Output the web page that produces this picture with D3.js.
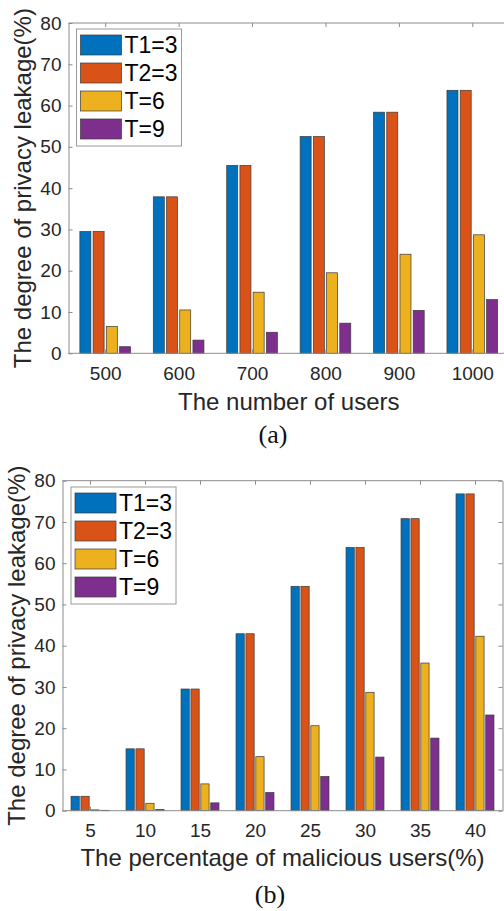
<!DOCTYPE html>
<html>
<head>
<meta charset="utf-8">
<script src="https://cdn.jsdelivr.net/npm/d3@7"></script>
<style>
  body { margin: 0; background: #fff; }
  svg { display: block; }
</style>
</head>
<body>
<script>
// Panel (a): number of users
const userCats = ['500', '600', '700', '800', '900', '1000'];
const userT1 = [29.5, 37.9, 45.5, 52.5, 58.4, 63.7];
const userT2 = [29.5, 37.9, 45.5, 52.5, 58.4, 63.7];
const userT6 = [6.5, 10.5, 14.8, 19.5, 24.0, 28.7];
const userT9 = [1.6, 3.2, 5.1, 7.3, 10.4, 13.0];

// Panel (b): percentage of malicious users
const malCats = ['5', '10', '15', '20', '25', '30', '35', '40'];
const malT1 = [3.5, 15.0, 29.5, 42.9, 54.4, 63.8, 70.8, 76.8];
const malT2 = [3.5, 15.0, 29.5, 42.9, 54.4, 63.8, 70.8, 76.8];
const malT6 = [0.2, 1.8, 6.5, 13.1, 20.6, 28.7, 35.8, 42.3];
const malT9 = [0.1, 0.3, 1.9, 4.4, 8.3, 13.0, 17.6, 23.2];

const seriesNames = ['T1=3', 'T2=3', 'T=6', 'T=9'];
const seriesColors = ['#0072BD', '#D95319', '#EDB120', '#7E2F8E'];
const yTicks = [0, 10, 20, 30, 40, 50, 60, 70, 80];

const sans = '"Liberation Sans", Arial, Helvetica, sans-serif';
const textColor = '#262626';
const axisColor = '#8c8c8c';

const svg = d3.select('body')
  .append('svg')
    .attr('width', 504)
    .attr('height', 911);

const drawPanel = (cfg) => {
  const g = svg.append('g');

  // Scales
  const xScale = d3.scaleBand()
    .domain(cfg.cats)
    .range([cfg.left, cfg.right])
    .padding(0);
  const step = xScale.step();
  const pitch = 0.18 * step;

  const inner = d3.scaleBand()
    .domain(seriesNames)
    .range([-2 * pitch, 2 * pitch])
    .paddingInner(1 - 0.15 / 0.18)
    .paddingOuter((1 - 0.15 / 0.18) / 2);

  const yScale = d3.scaleLinear()
    .domain([0, 80])
    .range([cfg.bottom, cfg.top]);

  const center = (d) => xScale(d) + step / 2;

  // Bars
  const rows = cfg.cats.map((c, i) => ({
    cat: c,
    vals: seriesNames.map((s, j) => ({ key: s, color: seriesColors[j], value: cfg.series[j][i] }))
  }));

  g.append('g')
    .selectAll('g')
    .data(rows)
    .join('g')
      .attr('transform', (d) => `translate(${center(d.cat)},0)`)
    .selectAll('rect')
    .data((d) => d.vals)
    .join('rect')
      .attr('x', (d) => inner(d.key))
      .attr('y', (d) => yScale(d.value))
      .attr('width', inner.bandwidth())
      .attr('height', (d) => yScale(0) - yScale(d.value))
      .attr('fill', (d) => d.color)
      .attr('stroke', '#3a3a3a')
      .attr('stroke-width', 0.7);

  // Axes (box with inward ticks)
  const styleAxis = (a) => {
    a.select('.domain').attr('stroke', axisColor);
    a.selectAll('.tick line').attr('stroke', axisColor);
    a.selectAll('.tick text')
      .attr('fill', textColor)
      .style('font-family', sans)
      .style('font-size', '19px');
  };

  const tickPos = cfg.cats.map(center);

  g.append('g')
    .attr('transform', `translate(${cfg.left},0)`)
    .call(d3.axisLeft(yScale).tickValues(yTicks).tickSizeInner(-4).tickSizeOuter(0).tickPadding(7))
    .call(styleAxis);

  g.append('g')
    .attr('transform', `translate(${cfg.right},0)`)
    .call(d3.axisRight(yScale).tickValues(yTicks).tickSizeInner(-4).tickSizeOuter(0).tickFormat(''))
    .call(styleAxis);

  const xAxisScale = d3.scalePoint().domain(cfg.cats).range([tickPos[0], tickPos[tickPos.length - 1]]);

  const bottomAxis = g.append('g')
    .attr('transform', `translate(0,${cfg.bottom})`)
    .call(d3.axisBottom(xAxisScale).tickSizeInner(-4).tickSizeOuter(0).tickPadding(13))
    .call(styleAxis);
  bottomAxis.select('.domain').remove();
  g.append('line')
    .attr('x1', cfg.left).attr('x2', cfg.right)
    .attr('y1', cfg.bottom).attr('y2', cfg.bottom)
    .attr('stroke', axisColor);

  const topAxis = g.append('g')
    .attr('transform', `translate(0,${cfg.top})`)
    .call(d3.axisTop(xAxisScale).tickSizeInner(-4).tickSizeOuter(0).tickFormat(''))
    .call(styleAxis);
  topAxis.select('.domain').remove();
  g.append('line')
    .attr('x1', cfg.left).attr('x2', cfg.right)
    .attr('y1', cfg.top).attr('y2', cfg.top)
    .attr('stroke', axisColor);

  // Axis titles
  g.append('text')
    .attr('x', (cfg.left + cfg.right) / 2)
    .attr('y', cfg.xTitleY)
    .attr('text-anchor', 'middle')
    .attr('fill', textColor)
    .style('font-family', sans)
    .style('font-size', '24px')
    .text(cfg.xTitle);

  g.append('text')
    .attr('transform', `translate(${cfg.yTitleX},${(cfg.top + cfg.bottom) / 2}) rotate(-90)`)
    .attr('text-anchor', 'middle')
    .attr('fill', textColor)
    .style('font-family', sans)
    .style('font-size', '24px')
    .text('The degree of privacy leakage(%)');

  // Legend
  const lg = g.append('g')
    .attr('transform', `translate(${cfg.legendX},${cfg.legendY})`);
  lg.append('rect')
    .attr('width', 105)
    .attr('height', 117)
    .attr('fill', '#fff')
    .attr('stroke', '#9a9a9a');
  const item = lg.selectAll('g')
    .data(seriesNames)
    .join('g')
      .attr('transform', (d, i) => `translate(4,${6 + i * 28})`);
  item.append('rect')
    .attr('width', 41)
    .attr('height', 20)
    .attr('fill', (d, i) => seriesColors[i])
    .attr('stroke', '#3a3a3a')
    .attr('stroke-width', 0.7);
  item.append('text')
    .attr('x', 44)
    .attr('y', 10)
    .attr('dy', '0.36em')
    .attr('fill', '#000')
    .style('font-family', sans)
    .style('font-size', '23px')
    .text((d) => d);

  // Subplot caption
  g.append('text')
    .attr('x', cfg.capX)
    .attr('y', cfg.capY)
    .attr('text-anchor', 'middle')
    .attr('fill', '#111')
    .style('font-family', '"Liberation Serif", "DejaVu Serif", serif')
    .style('font-size', '26px')
    .text(cfg.caption);
};

drawPanel({
  cats: userCats,
  series: [userT1, userT2, userT6, userT9],
  left: 68.5, right: 509, top: 23, bottom: 353.3,
  xTitle: 'The number of users', xTitleY: 410,
  yTitleX: 31,
  legendX: 76.5, legendY: 29,
  caption: '(a)', capX: 273, capY: 443
});

drawPanel({
  cats: malCats,
  series: [malT1, malT2, malT6, malT9],
  left: 62.5, right: 502.5, top: 480.7, bottom: 810.7,
  xTitle: 'The percentage of malicious users(%)', xTitleY: 866,
  yTitleX: 25,
  legendX: 71, legendY: 487,
  caption: '(b)', capX: 270, capY: 903
});
</script>
</body>
</html>
